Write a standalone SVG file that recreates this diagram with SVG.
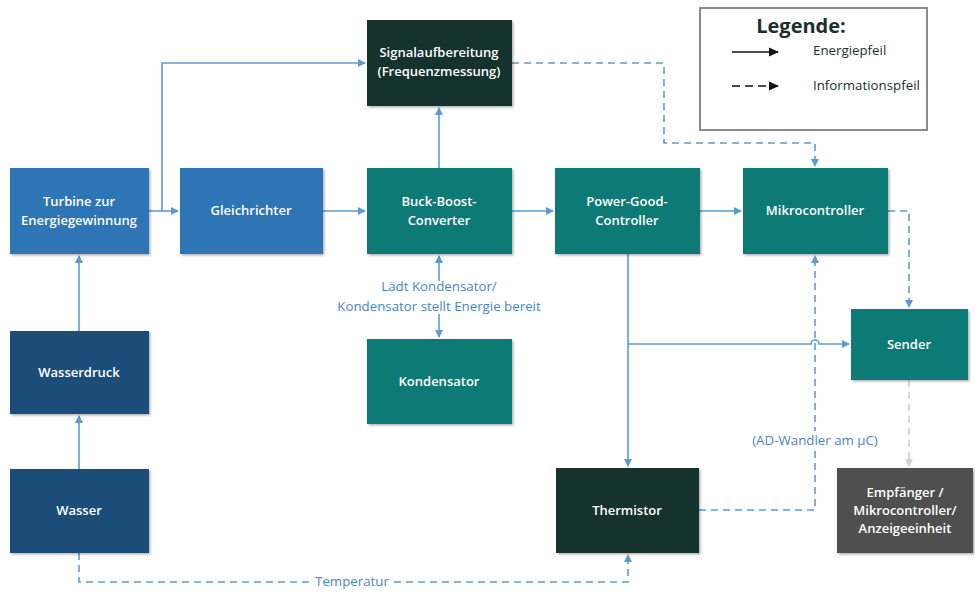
<svg xmlns="http://www.w3.org/2000/svg" width="975" height="593" viewBox="0 0 975 593">
<style>
.box{stroke:none;filter:url(#sh)}
.blue{fill:#2e74b5}
.dblue{fill:#1f4e79}
.teal{fill:#117a74}
.dark{fill:#17302f}
.gray{fill:#505050}
.t{font-family:"Open Sans","Liberation Sans",sans-serif;font-size:13px;font-weight:600;fill:#ffffff;text-anchor:middle}
.lbl{font-family:"Open Sans","Liberation Sans",sans-serif;font-size:13.3px;fill:#4a86c5;text-anchor:middle}
.c{fill:none;stroke:#5b9bd5;stroke-width:1.6}
.d{fill:none;stroke:#5b9bd5;stroke-width:1.6;stroke-dasharray:7 5}
.dg{fill:none;stroke:#cfcfcf;stroke-width:1.6;stroke-dasharray:7 5}
.lg{font-family:"Open Sans","Liberation Sans",sans-serif;fill:#1b2f2f}
</style>
<defs>
<filter id="sh" x="-10%" y="-10%" width="125%" height="125%">
<feDropShadow dx="1.5" dy="1.5" stdDeviation="1" flood-color="#000" flood-opacity="0.3"/>
</filter>
<marker id="a" markerWidth="8" markerHeight="8" refX="7" refY="4" orient="auto" markerUnits="userSpaceOnUse">
<path d="M0,0 L8,4 L0,8 Z" fill="#5b9bd5"/>
</marker>
<marker id="ag" markerWidth="8" markerHeight="8" refX="7" refY="4" orient="auto" markerUnits="userSpaceOnUse">
<path d="M0,0 L8,4 L0,8 Z" fill="#cfcfcf"/>
</marker>
<marker id="ak" markerWidth="10" markerHeight="10" refX="9" refY="5" orient="auto" markerUnits="userSpaceOnUse">
<path d="M0,0.5 L10,5 L0,9.5 Z" fill="#111"/>
</marker>
</defs>
<rect width="975" height="593" fill="#ffffff"/>

<g id="connectors">
<path class="c" d="M149,211 L178,211" marker-end="url(#a)"/>
<path class="c" d="M162,211 L162,63 L365,63" marker-end="url(#a)"/>
<path class="c" d="M323,211 L365,211" marker-end="url(#a)"/>
<path class="c" d="M512,211 L553,211" marker-end="url(#a)"/>
<path class="c" d="M700,211 L741,211" marker-end="url(#a)"/>
<path class="c" d="M439,168 L439,108" marker-end="url(#a)"/>
<path class="c" d="M439,281 L439,256" marker-end="url(#a)"/>
<path class="c" d="M439,314 L439,337" marker-end="url(#a)"/>
<path class="d" d="M512,63 L664,63 L664,143 L815,143 L815,166" marker-end="url(#a)"/>
<path class="d" d="M888,211 L909,211 L909,307" marker-end="url(#a)"/>
<path class="c" d="M628,254 L628,466" marker-end="url(#a)"/>
<path class="c" d="M628,344 L811,344 A4,4 0 0 1 819,344 L849,344" marker-end="url(#a)"/>
<path class="d" d="M699,510 L815,510 L815,256" marker-end="url(#a)"/>
<path class="dg" d="M909,380 L909,466" marker-end="url(#ag)"/>
<path class="c" d="M79,469 L79,416" marker-end="url(#a)"/>
<path class="c" d="M79,331 L79,256" marker-end="url(#a)"/>
<path class="d" d="M79,553 L79,582 L310,582"/>
<path class="d" d="M394,582 L628,582 L628,555" marker-end="url(#a)"/>
<text class="lbl" x="352" y="586">Temperatur</text>
<text class="lbl" x="439" y="291">Lädt Kondensator/</text>
<text class="lbl" x="439" y="311">Kondensator stellt Energie bereit</text>
<rect x="748" y="431" width="134" height="17" fill="#ffffff"/>
<text class="lbl" x="815" y="445">(AD-Wandler am µC)</text>
</g>

<g id="turbine"><rect class="box blue" x="10" y="168" width="139" height="86"/><text class="t" x="79" y="206">Turbine zur</text><text class="t" x="79" y="225">Energiegewinnung</text></g>
<g id="gleichrichter"><rect class="box blue" x="180" y="168" width="143" height="86"/><text class="t" x="251" y="215">Gleichrichter</text></g>
<g id="buckboost"><rect class="box teal" x="367" y="168" width="145" height="86"/><text class="t" x="439" y="206">Buck-Boost-</text><text class="t" x="439" y="225">Converter</text></g>
<g id="powergood"><rect class="box teal" x="555" y="168" width="145" height="86"/><text class="t" x="627" y="206">Power-Good-</text><text class="t" x="627" y="225">Controller</text></g>
<g id="mikrocontroller"><rect class="box teal" x="743" y="168" width="145" height="86"/><text class="t" x="815" y="215">Mikrocontroller</text></g>
<g id="signal"><rect class="box dark" x="367" y="20" width="145" height="86"/><text class="t" x="439" y="57">Signalaufbereitung</text><text class="t" x="439" y="76">(Frequenzmessung)</text></g>
<g id="kondensator"><rect class="box teal" x="367" y="339" width="145" height="85"/><text class="t" x="439" y="386">Kondensator</text></g>
<g id="wasserdruck"><rect class="box dblue" x="10" y="331" width="139" height="83"/><text class="t" x="79" y="377">Wasserdruck</text></g>
<g id="wasser"><rect class="box dblue" x="10" y="469" width="139" height="84"/><text class="t" x="79" y="515">Wasser</text></g>
<g id="thermistor"><rect class="box dark" x="556" y="468" width="143" height="85"/><text class="t" x="627" y="515">Thermistor</text></g>
<g id="sender"><rect class="box teal" x="851" y="309" width="117" height="71"/><text class="t" x="909" y="349">Sender</text></g>
<g id="empfaenger"><rect class="box gray" x="837" y="468" width="136" height="85"/><text class="t" x="905" y="497">Empfänger /</text><text class="t" x="905" y="515">Mikrocontroller/</text><text class="t" x="905" y="533">Anzeigeeinheit</text></g>

<g id="legende">
<rect x="700" y="8" width="227" height="122" fill="#ffffff" stroke="#8a8a8a" stroke-width="2"/>
<text class="lg" x="801" y="33" font-size="20" font-weight="bold" text-anchor="middle">Legende:</text>
<path d="M732,52 L778,52" stroke="#111" stroke-width="1.6" marker-end="url(#ak)"/>
<text class="lg" x="813" y="55" font-size="13.3">Energiepfeil</text>
<path d="M732,86 L778,86" stroke="#111" stroke-width="1.6" stroke-dasharray="8 5" marker-end="url(#ak)"/>
<text class="lg" x="813" y="90" font-size="13.3">Informationspfeil</text>
</g>
</svg>
